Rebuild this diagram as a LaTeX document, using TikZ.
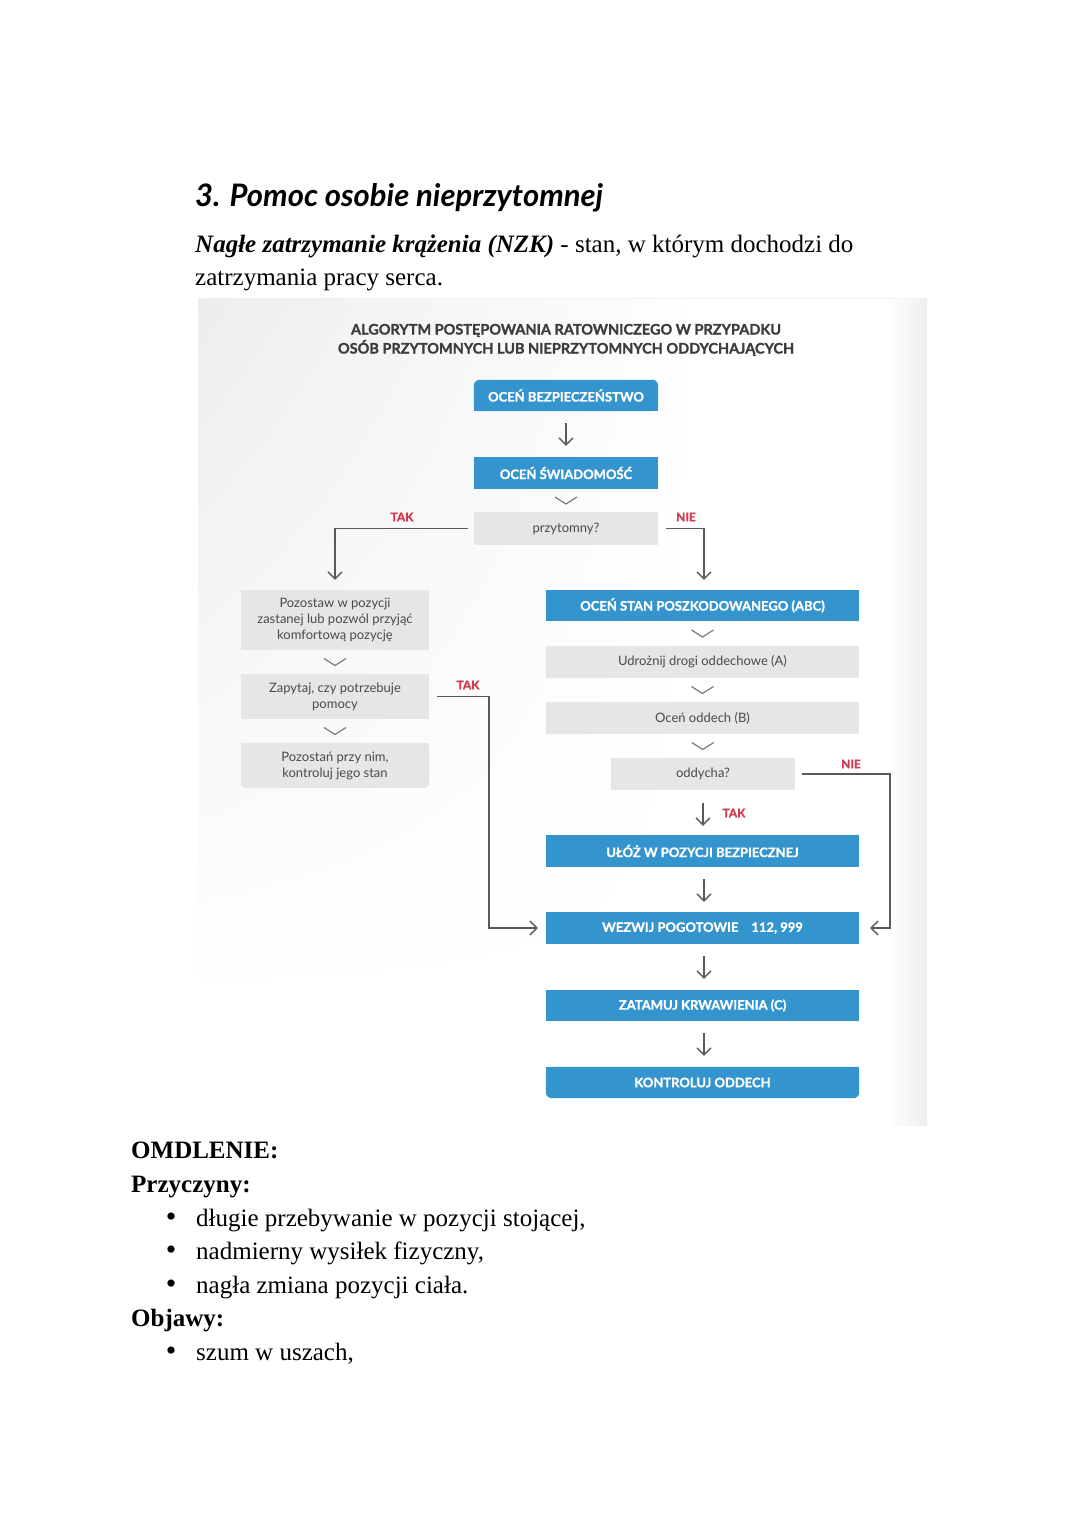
\documentclass[tikz,border=0pt]{standalone}
\usepackage{fontspec}
\setmainfont{Liberation Serif}
\newfontfamily\latof[BoldFeatures={FakeBold=1.2}]{Lato}
\usetikzlibrary{arrows.meta,calc,shadings}
\definecolor{flowblue}{HTML}{3494CE}
\definecolor{flowgray}{HTML}{E6E6E6}
\definecolor{boxtext}{HTML}{4A4A4A}
\definecolor{labred}{HTML}{D23A4E}
\definecolor{hdrtext}{HTML}{3C3C3C}
\definecolor{linegray}{HTML}{5A5A5A}
\pgfdeclarelayer{bottom}
\pgfdeclarelayer{background}
\pgfsetlayers{bottom,background,main}
\tikzset{
  bodytext/.style={anchor=base west, inner sep=0pt, font=\fontsize{25}{30}\selectfont},
  bluebox/.style={fill=flowblue, text=white, inner sep=0pt, font=\latof\bfseries\fontsize{13}{15}\selectfont},
  bluebare/.style={text=white, inner sep=0pt, font=\latof\bfseries\fontsize{13}{15}\selectfont},
  graybox/.style={fill=flowgray, text=boxtext, inner sep=0pt, align=center, font=\latof\fontsize{13}{16}\selectfont},
  graybare/.style={text=boxtext, inner sep=0pt, align=center, font=\latof\fontsize{13}{16}\selectfont},
  yesno/.style={text=labred, inner sep=0pt, font=\latof\bfseries\fontsize{12}{14}\selectfont},
  arr/.style={draw=linegray, line width=1.3pt, -{Straight Barb[length=7pt,width=14pt,line width=1.3pt]}},
  conn/.style={draw=linegray, line width=1.3pt},
  chev/.style={draw=linegray!80, line width=1.2pt}
}
\newcommand{\chevron}[2]{\draw[chev] ($(#1.south)!0.5!(#2.north)$) +(-11,-3.5) -- +(0,3.5) -- +(11,-3.5);}
\begin{document}
\begin{tikzpicture}[x=1pt,y=-1pt]
\useasboundingbox (0,0) rectangle (1080,1525);
\begin{pgfonlayer}{bottom}
  \fill[white] (0,0) rectangle (1080,1525);
  \fill[white] (198,298) rectangle (927,1125);
  \shade[upper left=black!7, upper right=white, lower left=white, lower right=white] (198,298) rectangle (700,1000);
  \shade[left color=white, right color=black!7] (888,298) rectangle (927,1125);
  \draw[black!5, line width=0.8pt] (198,298.5) -- (927,298.5);
\end{pgfonlayer}

% page text
\node[anchor=base west, inner sep=0pt, font=\latof\bfseries\itshape\fontsize{31}{36}\selectfont] (title) at (195,207) {3. Pomoc osobie nieprzytomnej};
\node[bodytext] (def1) at (195,252) {\textbf{\textit{Nagłe zatrzymanie krążenia (NZK)}} - stan, w którym dochodzi do};
\node[bodytext] (def2) at (195,285.5) {zatrzymania pracy serca.};

% header
\node[inner sep=0pt, align=center, text=hdrtext, font=\latof\bfseries\fontsize{14.5}{19}\selectfont] (hdr) at (566,340) {ALGORYTM POSTĘPOWANIA RATOWNICZEGO W PRZYPADKU\\OSÓB PRZYTOMNYCH LUB NIEPRZYTOMNYCH ODDYCHAJĄCYCH};

% centre column
\node[bluebare, minimum width=184pt, minimum height=31pt] (b1) at (566,395.5) {OCEŃ BEZPIECZEŃSTWO};
\begin{pgfonlayer}{background}
  \fill[flowblue, rounded corners=6pt] (b1.north west) rectangle (b1.south east);
  \fill[flowblue] (b1.west) rectangle (b1.south east);
\end{pgfonlayer}
\node[bluebox, minimum width=184pt, minimum height=32pt] (b2) at (566,473) {OCEŃ ŚWIADOMOŚĆ};
\node[graybox, minimum width=184pt, minimum height=33pt] (q1) at (566,528.5) {przytomny?};

% left column
\node[graybox, minimum width=188pt, minimum height=60pt] (L1) at (335,620) {Pozostaw w pozycji\\zastanej lub pozwól przyjąć\\komfortową pozycję};
\node[graybox, minimum width=188pt, minimum height=45pt] (L2) at (335,696.5) {Zapytaj, czy potrzebuje\\pomocy};
\node[graybare, minimum width=188pt, minimum height=45pt] (L3) at (335,765.5) {Pozostań przy nim,\\kontroluj jego stan};
\begin{pgfonlayer}{background}
  \fill[flowgray, rounded corners=6pt] (L3.north west) rectangle (L3.south east);
  \fill[flowgray] (L3.north west) rectangle (L3.east);
\end{pgfonlayer}

% right column
\node[bluebox, minimum width=313pt, minimum height=31pt] (R1) at (702.5,605.5) {OCEŃ STAN POSZKODOWANEGO (ABC)};
\node[graybox, minimum width=313pt, minimum height=32pt] (R2) at (702.5,662) {Udrożnij drogi oddechowe (A)};
\node[graybox, minimum width=313pt, minimum height=32pt] (R3) at (702.5,718) {Oceń oddech (B)};
\node[graybox, minimum width=184pt, minimum height=32pt] (Q2) at (703,774) {oddycha?};
\node[bluebox, minimum width=313pt, minimum height=32pt] (R5) at (702.5,851) {UŁÓŻ W POZYCJI BEZPIECZNEJ};
\node[bluebox, minimum width=313pt, minimum height=32pt] (R6) at (702.5,928) {WEZWIJ POGOTOWIE\quad 112, 999};
\node[bluebox, minimum width=313pt, minimum height=31pt] (R7) at (702.5,1005.5) {ZATAMUJ KRWAWIENIA (C)};
\node[bluebare, minimum width=313pt, minimum height=31pt] (R8) at (702.5,1082.5) {KONTROLUJ ODDECH};
\begin{pgfonlayer}{background}
  \fill[flowblue, rounded corners=6pt] (R8.north west) rectangle (R8.south east);
  \fill[flowblue] (R8.north west) rectangle (R8.east);
\end{pgfonlayer}

% labels
\node[yesno] (tak1) at (402,517) {TAK};
\node[yesno] (nie1) at (686,517) {NIE};
\node[yesno] (tak2) at (468,685) {TAK};
\node[yesno] (nie2) at (851,764) {NIE};
\node[yesno] (tak3) at (734,813) {TAK};

\coordinate (k1) at (489,0);
\coordinate (k2) at (890,0);

% connectors
\draw[arr] ([yshift=-12pt]b1.south) -- ([yshift=11pt]b2.north);
\chevron{b2}{q1}
\draw[arr] ([xshift=-6pt]q1.west) -| ([yshift=10pt]L1.north);
\draw[arr] ([xshift=8pt]q1.east) -| ([xshift=1.5pt,yshift=10pt]R1.north);
\chevron{L1}{L2}
\chevron{L2}{L3}
\draw[arr] ([xshift=8pt]L2.east) -- (k1 |- L2.east) -- (k1 |- R6.west) -- ([xshift=-8pt]R6.west);
\chevron{R1}{R2}
\chevron{R2}{R3}
\chevron{R3}{Q2}
\draw[arr] ([yshift=-13pt]Q2.south) -- ([yshift=9pt]Q2.south |- R5.north);
\draw[arr] ([xshift=7pt]Q2.east) -- (k2 |- Q2.east) -- (k2 |- R6.east) -- ([xshift=11pt]R6.east);
\draw[arr] ([xshift=1.5pt,yshift=-12pt]R5.south) -- ([xshift=1.5pt,yshift=10pt]R6.north);
\draw[arr] ([xshift=1.5pt,yshift=-12pt]R6.south) -- ([xshift=1.5pt,yshift=11pt]R7.north);
\draw[arr] ([xshift=1.5pt,yshift=-12pt]R7.south) -- ([xshift=1.5pt,yshift=11pt]R8.north);

% lower text
\node[bodytext, font=\bfseries\fontsize{25}{30}\selectfont] (om) at (131,1158) {OMDLENIE:};
\node[bodytext, font=\bfseries\fontsize{25}{30}\selectfont] (prz) at (131,1192) {Przyczyny:};
\node[bodytext] (p1) at (196,1226) {długie przebywanie w pozycji stojącej,};
\node[bodytext] (p2) at (196,1259.5) {nadmierny wysiłek fizyczny,};
\node[bodytext] (p3) at (196,1293) {nagła zmiana pozycji ciała.};
\node[bodytext, font=\bfseries\fontsize{25}{30}\selectfont] (obj) at (131,1326.5) {Objawy:};
\node[bodytext] (s1) at (196,1360) {szum w uszach,};
\foreach \n in {p1,p2,p3,s1} {
  \node[anchor=base, inner sep=0pt, font=\fontsize{30}{30}\selectfont] at ([xshift=-25pt]\n.base west) {•};
}
\end{tikzpicture}
\end{document}
